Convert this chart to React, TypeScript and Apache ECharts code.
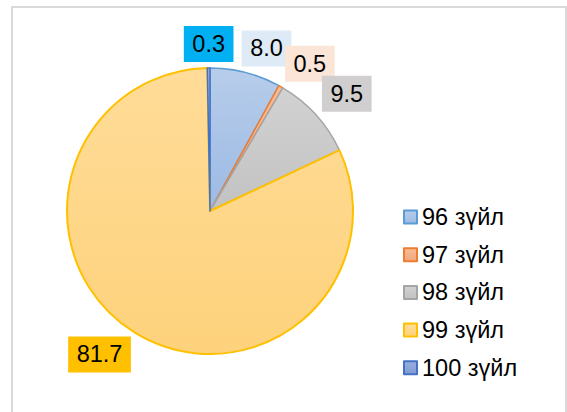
import React, { useEffect, useRef } from "react";
import * as echarts from "echarts";

const categories = ["96 зүйл", "97 зүйл", "98 зүйл", "99 зүйл", "100 зүйл"];
const values = [8.0, 0.5, 9.5, 81.7, 0.3];

const fills = [
  ["#b7cdea", "#9cbae4"],
  ["#f7bc98", "#f2a77c"],
  ["#d2d2d2", "#c2c2c2"],
  ["#ffdc98", "#fed27c"],
  ["#99b0de", "#7f9bd4"],
];
const borders = ["#5b9bd5", "#ed7d31", "#a5a5a5", "#ffc000", "#4472c4"];
const labelBgs = ["#deebf7", "#fbe5d6", "#d0cece", "#ffc000", "#00b0f0"];
// label nudges from the slice's outer-edge midpoint (layout, not data)
const labelNudge = [
  [21, -24],
  [29, -23],
  [31, -21],
  [-35, 22],
  [0, -24],
];

const CX = 210;
const CY = 211;
const R = 143;
const FONT = "'Liberation Sans', Arial, sans-serif";

export default function App() {
  const ref = useRef<HTMLDivElement>(null);
  useEffect(() => {
    document.body.style.margin = "0";
    const chart = echarts.init(ref.current!, undefined, { renderer: "svg" });
    const total = values.reduce((a, b) => a + b, 0);
    const mids: number[] = [];
    let acc = 0;
    values.forEach((v) => {
      mids.push(((acc + v / 2) / total) * Math.PI * 2);
      acc += v;
    });
    chart.setOption({
      animation: false,
      backgroundColor: "#ffffff",
      graphic: [
        {
          type: "rect",
          shape: { x: 12, y: 7, width: 554, height: 520 },
          style: { fill: "none", stroke: "#d9d9d9", lineWidth: 2 },
          silent: true,
        },
      ],
      legend: {
        orient: "vertical",
        left: 398,
        top: 200,
        itemWidth: 13,
        itemHeight: 13,
        itemGap: 13.7,
        icon: "rect",
        textStyle: {
          fontFamily: FONT,
          fontSize: 23.5,
          lineHeight: 23,
          color: "#000000",
        },
        data: categories,
      },
      series: [
        {
          type: "pie",
          center: [CX, CY],
          radius: R,
          startAngle: 90,
          clockwise: true,
          avoidLabelOverlap: false,
          data: categories.map((name, i) => ({
            name,
            value: values[i],
            itemStyle: {
              color: new echarts.graphic.LinearGradient(0, 0, 0, 1, [
                { offset: 0, color: fills[i][0] },
                { offset: 1, color: fills[i][1] },
              ]),
              borderColor: borders[i],
              borderWidth: i === 3 ? 2 : 1.5,
            },
            label: {
              backgroundColor: labelBgs[i],
            },
          })),
          label: {
            show: true,
            position: "outside",
            formatter: (p: any) => p.value.toFixed(1),
            fontFamily: FONT,
            fontSize: 23.5,
            lineHeight: 23,
            color: "#000000",
            padding: [7, 8.5, 6, 8.5],
          },
          labelLine: { show: false },
          labelLayout: (params: any) => {
            const i = params.dataIndex;
            const a = mids[i];
            const ex = CX + R * Math.sin(a);
            const ey = CY - R * Math.cos(a);
            return {
              x: ex + labelNudge[i][0],
              y: ey + labelNudge[i][1],
              align: "center",
              verticalAlign: "middle",
            };
          },
          emphasis: { disabled: true },
        },
      ],
    });
    return () => chart.dispose();
  }, []);
  return <div ref={ref} style={{ width: 567, height: 412 }} />;
}
